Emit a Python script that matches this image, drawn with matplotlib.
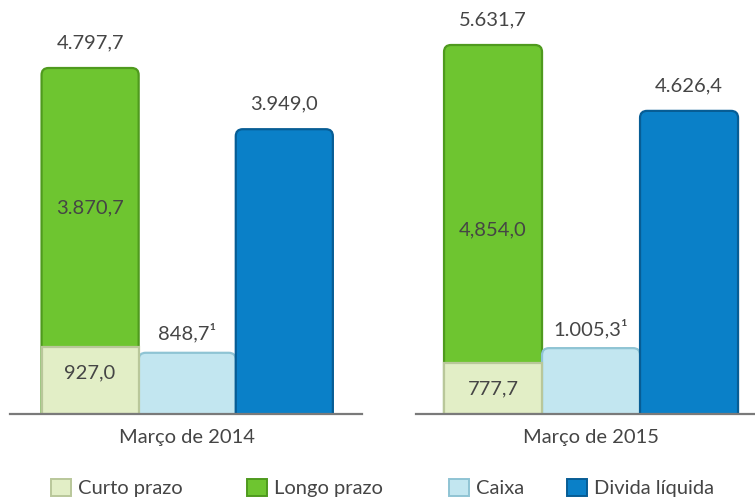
import matplotlib
matplotlib.use("Agg")
import matplotlib.pyplot as plt
from matplotlib.patches import FancyBboxPatch

plt.rcParams['font.family'] = ['Lato', 'DejaVu Sans']

periods = ["Março de 2014", "Março de 2015"]
series = ["Curto prazo", "Longo prazo", "Caixa", "Divida líquida"]
curto = [927.0, 777.7]
longo = [3870.7, 4854.0]
total_divida = [4797.7, 5631.7]
caixa = [848.7, 1005.3]
liquida = [3949.0, 4626.4]
lbl_total = ["4.797,7", "5.631,7"]
lbl_curto = ["927,0", "777,7"]
lbl_longo = ["3.870,7", "4,854,0"]
lbl_caixa = ["848,7¹", "1.005,3¹"]
lbl_liquida = ["3.949,0", "4.626,4"]

col = {"Curto prazo": "#e2eec6", "Longo prazo": "#6ec530",
       "Caixa": "#c2e6f0", "Divida líquida": "#0a80c8"}
edge = {"Curto prazo": "#b9c79a", "Longo prazo": "#4f9a1e",
        "Caixa": "#8fc4d4", "Divida líquida": "#075d95"}
txt = "#454545"
FS = 14.5

W, H = 755, 499
fig = plt.figure(figsize=(W / 100, H / 100), dpi=100)

panels = [
    dict(l=10, r=362, xlim=(-0.825, 2.80), ymax=4797.7 * 414 / 346),
    dict(l=416, r=755, xlim=(-0.786, 2.673), ymax=5631.7 * 414 / 369),
]

def rounded(ax, rect, color, ec, z, r_px=7):
    x, y, w, h = rect.get_x(), rect.get_y(), rect.get_width(), rect.get_height()
    p0 = ax.transData.inverted().transform((0, 0))
    p1 = ax.transData.inverted().transform((1, 1))
    ux, uy = p1[0] - p0[0], p1[1] - p0[1]
    r = r_px * ux
    aspect = uy / ux
    ext = r_px * uy * 1.5
    patch = FancyBboxPatch((x, y - ext), w, h + ext,
                           boxstyle=f"round,pad=0,rounding_size={r}",
                           mutation_aspect=aspect, facecolor=color,
                           edgecolor=ec, linewidth=1.6, zorder=z)
    ax.add_patch(patch)
    rect.set_visible(False)

for i, p in enumerate(panels):
    ax = fig.add_axes([p["l"] / W, (H - 414) / H, (p["r"] - p["l"]) / W, 414 / H])
    ax.set_xlim(*p["xlim"])
    ax.set_ylim(0, p["ymax"])
    for s in ["top", "right", "left"]:
        ax.spines[s].set_visible(False)
    ax.spines["bottom"].set_color("#7a7a7a")
    ax.spines["bottom"].set_linewidth(1.6)
    ax.spines["bottom"].set_zorder(10)
    ax.set_yticks([])
    ax.set_xticks([1])
    ax.set_xticklabels([periods[i]], fontsize=FS, color=txt)
    ax.tick_params(axis="x", length=0, pad=11)

    b_long = ax.bar([0], [longo[i]], bottom=[curto[i]], width=1.0,
                    color=col["Longo prazo"], label="Longo prazo")
    b_curto = ax.bar([0], [curto[i]], width=1.0, color=col["Curto prazo"],
                     edgecolor=edge["Curto prazo"], linewidth=1.6, zorder=3,
                     label="Curto prazo")
    b_caixa = ax.bar([1], [caixa[i]], width=1.0, color=col["Caixa"], label="Caixa")
    b_liq = ax.bar([2], [liquida[i]], width=1.0, color=col["Divida líquida"],
                   label="Divida líquida")
    fig.canvas.draw()
    rl = b_long.patches[0]
    rl.set_y(0)
    rl.set_height(curto[i] + longo[i])
    rounded(ax, rl, col["Longo prazo"], edge["Longo prazo"], 2)
    rounded(ax, b_caixa.patches[0], col["Caixa"], edge["Caixa"], 2)
    rounded(ax, b_liq.patches[0], col["Divida líquida"], edge["Divida líquida"], 2)

    off = 25
    ax.annotate(lbl_total[i], (0, total_divida[i]), xytext=(0, off * 0.72),
                textcoords="offset points", ha="center", va="center",
                fontsize=FS, color=txt)
    ax.annotate(lbl_liquida[i], (2, liquida[i]), xytext=(0, off * 0.72),
                textcoords="offset points", ha="center", va="center",
                fontsize=FS, color=txt)
    ax.annotate(lbl_caixa[i], (1, caixa[i]), xytext=(0, 20 * 0.72),
                textcoords="offset points", ha="center", va="center",
                fontsize=FS, color=txt)
    ax.text(0, curto[i] + longo[i] * (0.5 if i == 0 else 0.42), lbl_longo[i],
            ha="center", va="center", fontsize=FS, color=txt, zorder=5)
    ax.text(0, curto[i] / 2 + (curto[i] * 0.12 if i == 0 else 0), lbl_curto[i],
            ha="center", va="center", fontsize=FS, color=txt, zorder=5)

leg_x = {"Curto prazo": 51, "Longo prazo": 247, "Caixa": 449, "Divida líquida": 567}
for name in series:
    h = FancyBboxPatch((0, 0), 1, 1, boxstyle="round,pad=0,rounding_size=0.25",
                       facecolor=col[name], edgecolor=edge[name], linewidth=1.4)
    fig.legend(handles=[h], labels=[name], loc="center left",
               bbox_to_anchor=(leg_x[name] / W, 1 - 488 / H),
               frameon=False, fontsize=FS, handlelength=0.98,
               handleheight=0.98, handletextpad=0.35, borderpad=0,
               borderaxespad=0, labelcolor=txt)

fig.savefig("out.png", dpi=100)
